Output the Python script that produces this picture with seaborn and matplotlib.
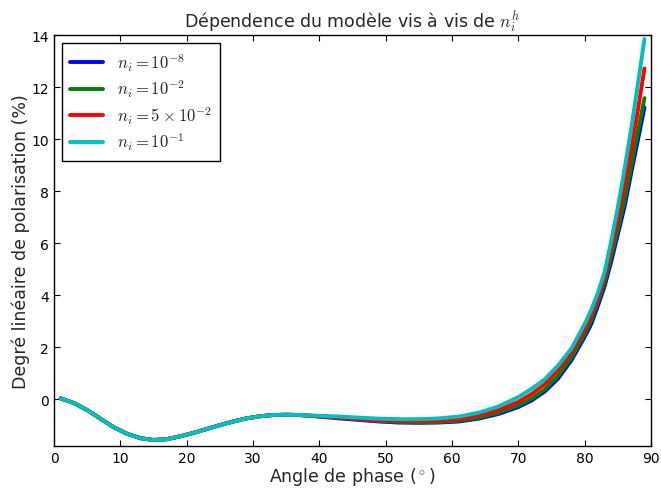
import numpy as np
import pandas as pd
import matplotlib
matplotlib.use("Agg")
import matplotlib.pyplot as plt
import seaborn as sns

# phase angles (deg)
angle_head = [1, 3, 5, 7, 9, 11, 13, 15, 17, 19, 21, 23, 25, 27, 29, 31, 33, 35, 37]
angle_tail = [40, 43, 46, 49, 52, 55, 58, 61, 64, 67, 70, 72, 74, 76, 78, 80,
              81, 82, 83, 84, 85, 86, 87, 88, 89]

# the four curves are the same up to ~37 deg
pol_head = [0.03, -0.15, -0.42, -0.75, -1.08, -1.33, -1.5, -1.57, -1.54, -1.43,
            -1.3, -1.15, -1.0, -0.86, -0.74, -0.66, -0.61, -0.6, -0.61]

pol_1e8 = [-0.67, -0.74, -0.8, -0.86, -0.9, -0.91, -0.9, -0.86, -0.75, -0.57,
           -0.3, -0.05, 0.3, 0.8, 1.5, 2.4, 2.9, 3.6, 4.35, 5.3, 6.35, 7.4, 8.7, 9.95, 11.22]
pol_1e2 = [-0.66, -0.72, -0.78, -0.84, -0.88, -0.89, -0.88, -0.83, -0.71, -0.52,
           -0.24, 0.02, 0.38, 0.9, 1.6, 2.5, 3.05, 3.75, 4.5, 5.5, 6.55, 7.65, 8.95, 10.25, 11.58]
pol_5e2 = [-0.66, -0.7, -0.76, -0.81, -0.84, -0.85, -0.83, -0.77, -0.63, -0.42,
           -0.1, 0.2, 0.58, 1.12, 1.8, 2.7, 3.25, 3.9, 4.7, 5.8, 6.95, 8.2, 9.6, 11.1, 12.72]
pol_1e1 = [-0.64, -0.67, -0.71, -0.75, -0.77, -0.77, -0.74, -0.67, -0.52, -0.28,
           0.08, 0.4, 0.77, 1.3, 1.95, 2.9, 3.45, 4.1, 4.9, 6.1, 7.4, 8.85, 10.4, 12.1, 13.85]

labels = [r'$n_i =10^{-8}$', r'$n_i =10^{-2}$',
          r'$n_i =5\times10^{-2}$', r'$n_i =10^{-1}$']
colors = ['#0000ff', '#008000', '#ff0000', '#00bfbf']

angles = angle_head + angle_tail
frames = []
for lab, tail in zip(labels, [pol_1e8, pol_1e2, pol_5e2, pol_1e1]):
    frames.append(pd.DataFrame({'angle': angles, 'pol': pol_head + tail, 'n': lab}))
df = pd.concat(frames, ignore_index=True)

sns.set_style('white')
plt.rcParams.update({
    'font.family': ['DejaVu Sans'],
    'mathtext.fontset': 'cm',
    'xtick.direction': 'in', 'ytick.direction': 'in',
    'xtick.top': True, 'ytick.right': True,
    'xtick.bottom': True, 'ytick.left': True,
    'xtick.major.size': 4, 'ytick.major.size': 4,
    'axes.edgecolor': 'black', 'axes.linewidth': 1.0,
})

fig = plt.figure(figsize=(6.61, 4.89), dpi=100)
ax = fig.add_axes([0.0817, 0.086, 0.9033, 0.840])

sns.lineplot(data=df, x='angle', y='pol', hue='n', hue_order=labels,
             palette=colors, sort=False, estimator=None, lw=2.8, ax=ax)

ax.set_xlim(0, 90)
ax.set_ylim(-1.8, 14)
ax.set_xticks(range(0, 91, 10))
ax.set_yticks(range(0, 15, 2))
ax.tick_params(labelsize=10, colors='black')
for s in ax.spines.values():
    s.set_visible(True)
    s.set_color('black')

ax.set_xlabel(r'Angle de phase ($^\circ$)', fontsize=12.5, labelpad=0)
ax.set_ylabel('Degré linéaire de polarisation (%)', fontsize=12.5, labelpad=1)
ax.set_title(r'Dépendence du modèle vis à vis de $n_i^h$', fontsize=12.5)

handles, labs = ax.get_legend_handles_labels()
leg = ax.legend(handles, labs, loc='upper left', fontsize=12, frameon=True,
                fancybox=False, edgecolor='black', framealpha=1,
                handlelength=2.0, handletextpad=0.8, borderpad=0.5,
                labelspacing=0.3, borderaxespad=0.45)
leg.get_frame().set_linewidth(1.0)
for h in leg.get_lines():
    h.set_linewidth(2.8)

fig.savefig('out.png', dpi=100)
